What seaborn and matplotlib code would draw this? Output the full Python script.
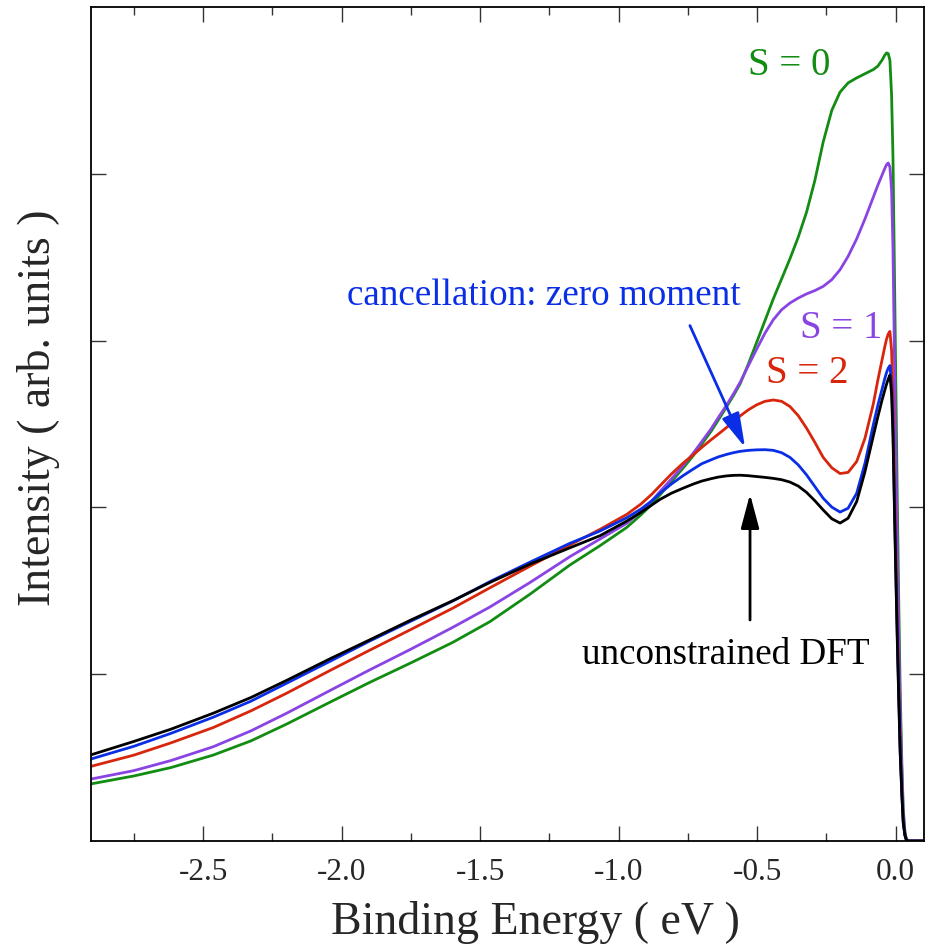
import numpy as np
import pandas as pd
import matplotlib
matplotlib.use("Agg")
import matplotlib.pyplot as plt
import seaborn as sns
from matplotlib.ticker import MultipleLocator, NullFormatter

sns.set_style("ticks")
plt.rcParams['font.family'] = ['Liberation Serif', 'DejaVu Serif']
plt.rcParams['axes.unicode_minus'] = False

# Binding energy grid (eV)
energy = [-2.906, -2.75, -2.617, -2.464, -2.328, -2.2, -2.039, -1.9, -1.754, -1.6,
          -1.465, -1.32, -1.176, -1.068, -0.971, -0.92, -0.88, -0.851, -0.81, -0.768,
          -0.731, -0.70, -0.667, -0.64, -0.610, -0.586, -0.562, -0.532, -0.502, -0.472,
          -0.442, -0.412, -0.382, -0.352, -0.322, -0.292, -0.262, -0.231, -0.201, -0.172,
          -0.141, -0.111, -0.081, -0.065, -0.050, -0.040, -0.033, -0.027, -0.021, -0.015,
          -0.010, -0.005, 0.001, 0.006, 0.011, 0.016, 0.022, 0.027, 0.033, 0.038,
          0.044, 0.050, 0.102]

s0 = [0.342, 0.390, 0.440, 0.515, 0.600, 0.700, 0.835, 0.950, 1.065, 1.190,
      1.315, 1.480, 1.655, 1.770, 1.880, 1.955, 2.020, 2.075, 2.155, 2.235,
      2.310, 2.380, 2.455, 2.525, 2.605, 2.670, 2.740, 2.860, 2.990, 3.120,
      3.250, 3.370, 3.490, 3.620, 3.770, 3.960, 4.190, 4.380, 4.490, 4.545,
      4.575, 4.600, 4.625, 4.645, 4.680, 4.710, 4.725, 4.720, 4.680, 4.470,
      4.100, 3.450, 2.650, 1.990, 1.420, 0.900, 0.470, 0.195, 0.058, 0.014,
      0.000, 0.000, 0.000]

s1 = [0.371, 0.422, 0.482, 0.565, 0.660, 0.765, 0.905, 1.025, 1.147, 1.280,
      1.403, 1.550, 1.705, 1.810, 1.905, 1.975, 2.040, 2.095, 2.170, 2.250,
      2.325, 2.395, 2.470, 2.540, 2.615, 2.680, 2.749, 2.850, 2.949, 3.045,
      3.125, 3.185, 3.225, 3.255, 3.280, 3.300, 3.325, 3.365, 3.425, 3.505,
      3.610, 3.730, 3.860, 3.930, 3.990, 4.030, 4.055, 4.065, 4.040, 3.900,
      3.550, 2.950, 2.250, 1.700, 1.220, 0.780, 0.410, 0.170, 0.050, 0.012,
      0.000, 0.000, 0.000]

s2 = [0.447, 0.515, 0.588, 0.680, 0.780, 0.885, 1.025, 1.143, 1.265, 1.395,
      1.518, 1.648, 1.775, 1.868, 1.958, 2.020, 2.080, 2.130, 2.200, 2.265,
      2.315, 2.360, 2.405, 2.440, 2.480, 2.515, 2.548, 2.585, 2.615, 2.636,
      2.644, 2.636, 2.605, 2.550, 2.475, 2.390, 2.300, 2.238, 2.203, 2.210,
      2.275, 2.415, 2.620, 2.760, 2.880, 2.960, 3.010, 3.040, 3.055, 2.940,
      2.660, 2.200, 1.680, 1.280, 0.920, 0.580, 0.305, 0.125, 0.037, 0.009,
      0.000, 0.000, 0.000]

zero_moment = [0.491, 0.568, 0.645, 0.742, 0.838, 0.945, 1.080, 1.198, 1.315, 1.438,
               1.555, 1.672, 1.785, 1.858, 1.938, 1.990, 2.040, 2.085, 2.140, 2.190,
               2.230, 2.262, 2.285, 2.303, 2.318, 2.328, 2.336, 2.342, 2.345, 2.346,
               2.342, 2.328, 2.300, 2.255, 2.195, 2.125, 2.055, 2.002, 1.972, 1.995,
               2.085, 2.265, 2.495, 2.610, 2.705, 2.770, 2.810, 2.835, 2.850, 2.740,
               2.480, 2.050, 1.570, 1.200, 0.860, 0.540, 0.285, 0.115, 0.035, 0.008,
               0.000, 0.000, 0.000]

dft = [0.516, 0.597, 0.670, 0.766, 0.860, 0.962, 1.095, 1.205, 1.322, 1.440,
       1.550, 1.660, 1.758, 1.830, 1.918, 1.970, 2.015, 2.048, 2.085, 2.115,
       2.140, 2.158, 2.172, 2.182, 2.189, 2.192, 2.193, 2.190, 2.185, 2.180,
       2.174, 2.166, 2.152, 2.128, 2.090, 2.040, 1.985, 1.932, 1.906, 1.935,
       2.035, 2.215, 2.428, 2.540, 2.640, 2.700, 2.740, 2.770, 2.793, 2.680,
       2.430, 2.010, 1.540, 1.170, 0.840, 0.530, 0.280, 0.110, 0.035, 0.008,
       0.000, 0.000, 0.000]

series_names = ["S = 0", "S = 1", "S = 2", "zero moment", "unconstrained DFT"]
series_vals = [s0, s1, s2, zero_moment, dft]
series_colors = ["#128c12", "#8a44e4", "#d8260c", "#0a2ee6", "#000000"]

x_ticks = [-2.5, -2.0, -1.5, -1.0, -0.5, 0.0]
x_ticklabels = ["-2.5", "-2.0", "-1.5", "-1.0", "-0.5", "0.0"]
y_ticks = [1, 2, 3, 4]

fig = plt.figure(figsize=(9.31, 9.51), dpi=100)
ax = fig.add_axes([91/931, 1 - 841/951, 833/931, 834/951])

for name, vals, col in zip(series_names, series_vals, series_colors):
    df = pd.DataFrame({"energy": energy, "intensity": vals})
    sns.lineplot(data=df, x="energy", y="intensity", color=col, lw=2.0, ax=ax,
                 legend=False, estimator=None)

ax.set_xlim(-2.905, 0.102)
ax.set_ylim(0, 5)
ax.set_xticks(x_ticks)
ax.set_xticklabels(x_ticklabels)
ax.xaxis.set_minor_locator(MultipleLocator(0.25))
ax.set_yticks(y_ticks)
ax.yaxis.set_major_formatter(NullFormatter())

ax.tick_params(axis='both', which='major', direction='in', length=10.5, width=1.0,
               top=True, right=True, labelsize=22.5, pad=12, color='#333333')
ax.tick_params(axis='x', which='minor', direction='in', length=5.8, width=1.0,
               top=True, color='#333333')
for sp in ax.spines.values():
    sp.set_linewidth(1.3)
    sp.set_color('black')

ax.set_xlabel("Binding Energy ( eV )", fontsize=33)
ax.set_ylabel("Intensity ( arb. units )", fontsize=33)
ax.xaxis.set_label_coords(0.533, -0.072)
ax.yaxis.set_label_coords(-0.037, 0.519)

fs_s = 28
fs = 26.7
ax.text(-0.533, 4.65, "S = 0", color=series_colors[0], fontsize=fs_s, ha='left', va='center')
ax.text(-0.346, 3.075, "S = 1", color=series_colors[1], fontsize=fs_s, ha='left', va='center')
ax.text(-0.469, 2.80, "S = 2", color=series_colors[2], fontsize=fs_s, ha='left', va='center')
ax.text(-1.981, 3.27, "cancellation: zero moment", color=series_colors[3], fontsize=fs,
        ha='left', va='center')
ax.text(-1.132, 1.115, "unconstrained DFT", color='black', fontsize=fs, ha='left', va='center')

ax.annotate("", xy=(-0.544, 2.36), xytext=(-0.743, 3.09),
            arrowprops=dict(arrowstyle='-|>,head_length=0.75,head_width=0.2',
                            color=series_colors[3], lw=2, mutation_scale=28,
                            shrinkA=0, shrinkB=0))
ax.annotate("", xy=(-0.526, 2.08), xytext=(-0.526, 1.325),
            arrowprops=dict(arrowstyle='-|>,head_length=0.75,head_width=0.2',
                            color='black', lw=2, mutation_scale=28,
                            shrinkA=0, shrinkB=0))

fig.savefig("out.png", dpi=100)
